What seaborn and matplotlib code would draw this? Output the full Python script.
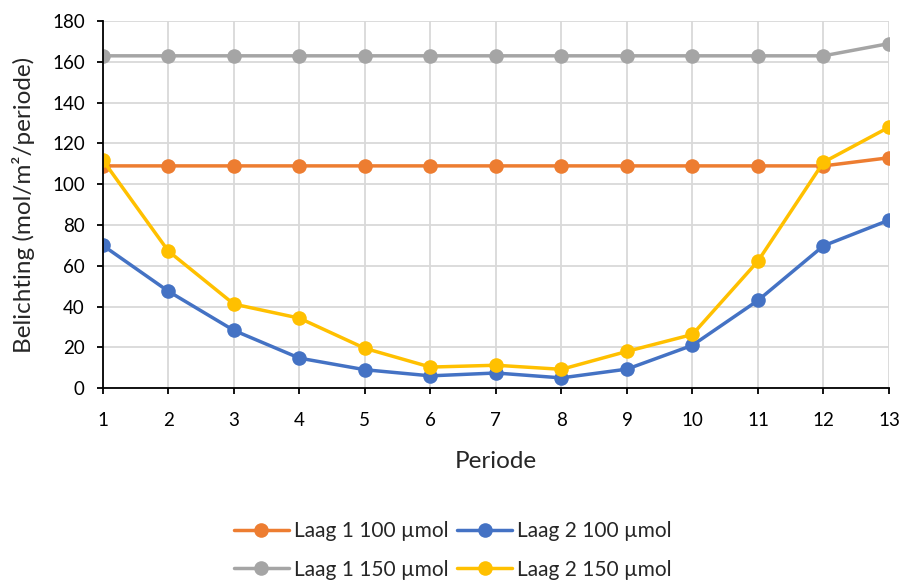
import matplotlib
matplotlib.use("Agg")
import matplotlib.pyplot as plt
import seaborn as sns
import pandas as pd

periods = list(range(1, 14))
laag1_100 = [109, 109, 109, 109, 109, 109, 109, 109, 109, 109, 109, 109, 113]
laag2_100 = [70, 47.5, 28.3, 14.7, 9, 6, 7.4, 5, 9.3, 21, 43, 69.8, 82.4]
laag1_150 = [163, 163, 163, 163, 163, 163, 163, 163, 163, 163, 163, 163, 169]
laag2_150 = [111.8, 67.2, 41.2, 34.3, 19.5, 10.3, 11.2, 9.2, 18, 26.3, 62.3, 110.8, 128]

names = ["Laag 1 100 µmol", "Laag 2 100 µmol", "Laag 1 150 µmol", "Laag 2 150 µmol"]
series = [laag1_100, laag2_100, laag1_150, laag2_150]
colors = ["#ED7D31", "#4472C4", "#A5A5A5", "#FFC000"]

sns.set_style("white")
plt.rcParams['font.family'] = ['Lato', 'DejaVu Sans']

fig = plt.figure(figsize=(9.02, 5.88), dpi=100)
ax = fig.add_axes([0.114, 0.340, 0.8716, 0.624])

for name, vals, c in zip(names, series, colors):
    df = pd.DataFrame({"Periode": periods, "val": vals})
    sns.lineplot(data=df, x="Periode", y="val", color=c, marker="o",
                 markersize=10.5, linewidth=2.5, markeredgewidth=0, ax=ax, label=name)

ax.set_xlim(1, 13)
ax.set_ylim(0, 180)
ax.set_xticks(periods)
ax.set_yticks(range(0, 181, 20))
ax.grid(True, color="#D9D9D9", linewidth=1.3)
ax.set_axisbelow(True)
for s in ["top", "right"]:
    ax.spines[s].set_visible(False)
for s in ["left", "bottom"]:
    ax.spines[s].set_color("#000000")
    ax.spines[s].set_linewidth(1.3)
ax.tick_params(axis="both", direction="out", length=4, width=1.3, color="#000000",
               labelsize=13.5, labelcolor="#000000", left=True, bottom=True)
ax.tick_params(axis="x", pad=13)
ax.tick_params(axis="y", pad=9)
ax.set_xlabel("Periode", fontsize=17.5, labelpad=16)
ax.set_ylabel("Belichting (mol/m²/periode)", fontsize=17.5, labelpad=12)

h, l = ax.get_legend_handles_labels()
ax.get_legend().remove()
order = [0, 2, 1, 3]
fig.legend([h[i] for i in order], [l[i] for i in order], ncol=2, loc="center",
           bbox_to_anchor=(0.502, 0.064), frameon=False, fontsize=15,
           handlelength=2.65, handletextpad=0.25, columnspacing=0.4, labelspacing=0.9)

fig.savefig("out.png", dpi=100)
